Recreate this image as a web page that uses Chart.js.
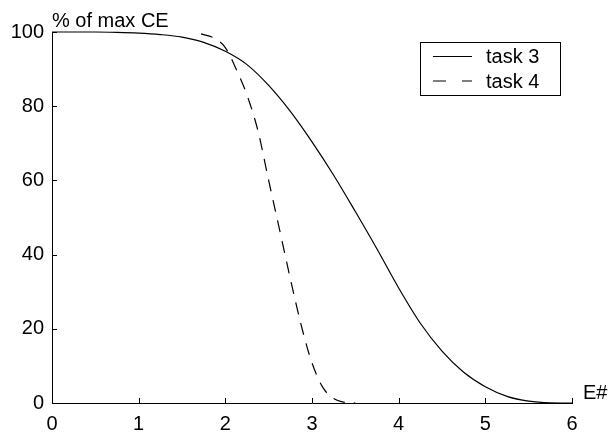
<!DOCTYPE html>
<html>
<head>
<meta charset="utf-8">
<script src="https://cdn.jsdelivr.net/npm/chart.js@4.4.1/dist/chart.umd.min.js"></script>
<style>
    html, body { margin: 0; padding: 0; background: #fff; }
    #wrap { width: 610px; height: 435px; }
</style>
</head>
<body>
<div id="wrap"><canvas id="chart" width="610" height="435"></canvas></div>
<script>
// values
const task3X = [0, 0.5, 0.75, 1, 1.25, 1.5, 1.75, 2, 2.25, 2.5, 2.75, 3, 3.25, 3.5, 3.75, 4, 4.25, 4.5, 4.75, 5, 5.25, 5.5, 5.75, 6];
const task3Y = [100, 100, 99.9, 99.7, 99.3, 98.6, 97.2, 94.8, 91.2, 85.6, 78.6, 70.4, 61.4, 51.6, 41.5, 31, 21.5, 14, 8.3, 4.4, 1.8, 0.5, 0.05, 0];

const task4X = [1.72, 1.875, 2, 2.125, 2.25, 2.375, 2.5, 2.625, 2.75, 2.875, 3, 3.125, 3.25, 3.375, 3.5];
const task4Y = [99.5, 98.3, 95.8, 90, 83, 73.5, 60, 46.8, 33.5, 21, 10.8, 4.2, 1.2, 0.2, 0];

const xTicks = [0, 1, 2, 3, 4, 5, 6];
const yTicks = [0, 20, 40, 60, 80, 100];

const seriesNames = ['task 3', 'task 4'];
const xLabel = 'E#';
const yLabel = '% of max CE';

const FONT = '"Liberation Sans", Arial, Helvetica, sans-serif';

function toPoints(xs, ys) {
    return xs.map((x, i) => ({ x: x, y: ys[i] }));
}

// inward ticks, axis labels and boxed legend like the original figure
const matlabLook = {
    id: 'matlabLook',
    afterDraw(chart) {
        const ctx = chart.ctx;
        const area = chart.chartArea;
        const xs = chart.scales.x;
        const ys = chart.scales.y;
        ctx.save();
        ctx.strokeStyle = '#000';
        ctx.lineWidth = 1;
        ctx.beginPath();
        xTicks.forEach(v => {
            const px = Math.round(xs.getPixelForValue(v)) + 0.5;
            ctx.moveTo(px, area.bottom);
            ctx.lineTo(px, area.bottom - 5);
        });
        yTicks.forEach(v => {
            const py = Math.round(ys.getPixelForValue(v)) + 0.5;
            ctx.moveTo(area.left, py);
            ctx.lineTo(area.left + 5, py);
        });
        ctx.stroke();

        ctx.fillStyle = '#000';
        ctx.font = '20px ' + FONT;
        ctx.textBaseline = 'alphabetic';
        ctx.textAlign = 'left';
        ctx.fillText(yLabel, area.left, area.top - 5);
        ctx.textBaseline = 'middle';
        ctx.fillText(xLabel, area.right + 11, area.bottom - 10);

        // legend box
        const bx = 420.5, by = 42.5, bw = 140, bh = 53;
        ctx.fillStyle = '#fff';
        ctx.fillRect(bx, by, bw, bh);
        ctx.strokeRect(bx, by, bw, bh);
        const rows = [56.5, 81];
        chart.data.datasets.forEach((ds, i) => {
            ctx.beginPath();
            ctx.setLineDash(ds.borderDash && ds.borderDash.length ? [13, 16] : []);
            ctx.lineWidth = 1.2;
            ctx.moveTo(433, rows[i]);
            ctx.lineTo(472, rows[i]);
            ctx.stroke();
            ctx.setLineDash([]);
            ctx.fillStyle = '#000';
            ctx.textBaseline = 'middle';
            ctx.fillText(ds.label, 486, rows[i] + 1);
        });
        ctx.restore();
    }
};

new Chart(document.getElementById('chart').getContext('2d'), {
    type: 'line',
    data: {
        datasets: [
            {
                label: seriesNames[0],
                data: toPoints(task3X, task3Y),
                borderColor: '#000',
                borderWidth: 1.2,
                pointRadius: 0,
                cubicInterpolationMode: 'monotone',
                clip: false,
                fill: false
            },
            {
                label: seriesNames[1],
                data: toPoints(task4X, task4Y),
                borderColor: '#000',
                borderWidth: 1.2,
                borderDash: [12, 9],
                pointRadius: 0,
                cubicInterpolationMode: 'monotone',
                clip: false,
                fill: false
            }
        ]
    },
    options: {
        responsive: false,
        animation: false,
        layout: { padding: { top: 32, right: 38, left: 0, bottom: 0 } },
        plugins: {
            legend: { display: false },
            tooltip: { enabled: false }
        },
        scales: {
            x: {
                type: 'linear',
                min: 0,
                max: 6,
                afterBuildTicks: s => { s.ticks = xTicks.map(v => ({ value: v })); },
                afterFit: s => { s.height = 32; },
                grid: { display: true, drawOnChartArea: false, drawTicks: false },
                border: { display: true, color: '#000', width: 1 },
                ticks: { color: '#000', padding: 9, maxRotation: 0, font: { family: FONT, size: 20 } }
            },
            y: {
                type: 'linear',
                min: 0,
                max: 100,
                afterBuildTicks: s => { s.ticks = yTicks.map(v => ({ value: v })); },
                afterFit: s => { s.width = 52; },
                grid: { display: true, drawOnChartArea: false, drawTicks: false },
                border: { display: true, color: '#000', width: 1 },
                ticks: { color: '#000', padding: 8, font: { family: FONT, size: 20 } }
            }
        }
    },
    plugins: [matlabLook]
});
</script>
</body>
</html>
